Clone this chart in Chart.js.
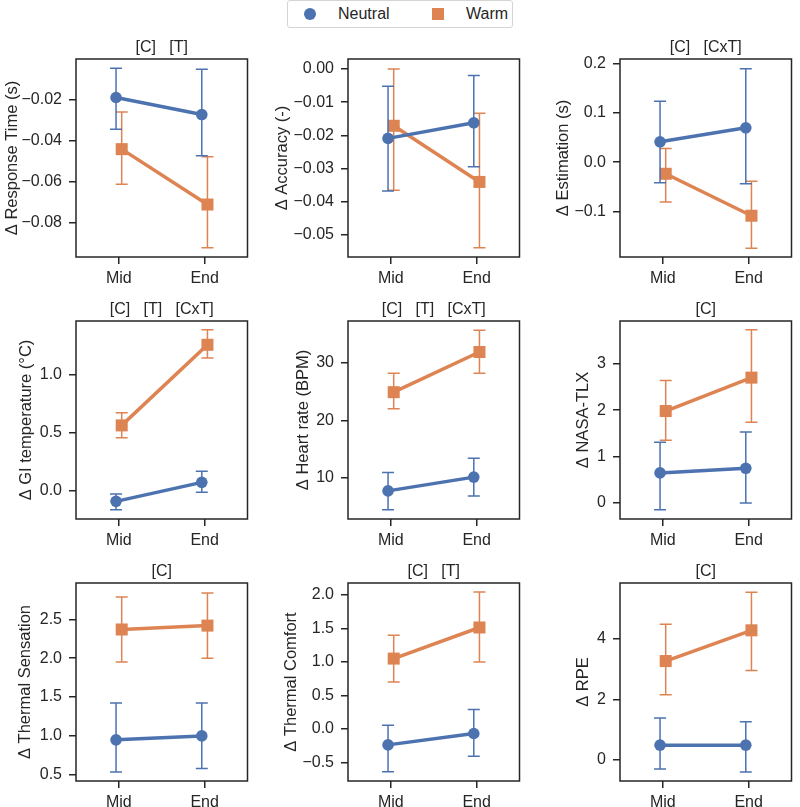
<!DOCTYPE html>
<html>
<head>
<meta charset="utf-8">
<script src="https://cdn.jsdelivr.net/npm/chart.js@4/dist/chart.umd.min.js"></script>
<style>
html,body{margin:0;padding:0;width:800px;height:807px;overflow:hidden;background:#fff;font-family:"Liberation Sans",Arial,sans-serif;}
.panel{position:absolute;}
.panel canvas{display:block;}
#legend{position:absolute;left:287px;top:0;width:226px;height:28px;border:1px solid #d4d4d4;border-radius:3px;box-sizing:border-box;background:#fff;z-index:5;}
#legend .mk{position:absolute;top:7px;width:12px;height:12px;}
#legend .tx{position:absolute;top:0;height:26px;line-height:26px;font-size:16px;color:#262626;}
</style>
</head>
<body>
<div id="legend"></div>
<script>
// ---------------- data ----------------
const categories = ["Mid", "End"];
const seriesNames = ["Neutral", "Warm"];

// Response time (s)
const rtNeutral = [-0.0190, -0.0273];
const rtNeutralCI = [[-0.0344, -0.0048], [-0.0473, -0.0053]];
const rtWarm = [-0.0441, -0.0710];
const rtWarmCI = [[-0.0612, -0.0260], [-0.0920, -0.0478]];
const rtTicks = [-0.08, -0.06, -0.04, -0.02];
const rtTickLabels = ["\u22120.08", "\u22120.06", "\u22120.04", "\u22120.02"];

// Accuracy (-)
const accNeutral = [-0.0209, -0.0162];
const accNeutralCI = [[-0.0367, -0.0052], [-0.0294, -0.0020]];
const accWarm = [-0.0171, -0.0340];
const accWarmCI = [[-0.0365, 0.0000], [-0.0538, -0.0133]];
const accTicks = [-0.05, -0.04, -0.03, -0.02, -0.01, 0.00];
const accTickLabels = ["\u22120.05", "\u22120.04", "\u22120.03", "\u22120.02", "\u22120.01", "0.00"];

// Estimation (s)
const estNeutral = [0.0415, 0.0700];
const estNeutralCI = [[-0.042, 0.124], [-0.044, 0.190]];
const estWarm = [-0.0236, -0.1090];
const estWarmCI = [[-0.081, 0.028], [-0.175, -0.0386]];
const estTicks = [-0.1, 0.0, 0.1, 0.2];
const estTickLabels = ["\u22120.1", "0.0", "0.1", "0.2"];

// GI temperature (°C)
const giNeutral = [-0.095, 0.069];
const giNeutralCI = [[-0.167, -0.031], [-0.017, 0.164]];
const giWarm = [0.560, 1.255];
const giWarmCI = [[0.454, 0.670], [1.140, 1.385]];
const giTicks = [0.0, 0.5, 1.0];
const giTickLabels = ["0.0", "0.5", "1.0"];

// Heart rate (BPM)
const hrNeutral = [7.7, 10.1];
const hrNeutralCI = [[4.4, 10.9], [6.8, 13.4]];
const hrWarm = [24.9, 31.9];
const hrWarmCI = [[22.0, 28.2], [28.2, 35.7]];
const hrTicks = [10, 20, 30];
const hrTickLabels = ["10", "20", "30"];

// NASA-TLX
const tlxNeutral = [0.648, 0.747];
const tlxNeutralCI = [[-0.145, 1.31], [0.00, 1.53]];
const tlxWarm = [1.98, 2.70];
const tlxWarmCI = [[1.35, 2.64], [1.74, 3.73]];
const tlxTicks = [0, 1, 2, 3];
const tlxTickLabels = ["0", "1", "2", "3"];

// Thermal sensation
const tsNeutral = [0.945, 0.996];
const tsNeutralCI = [[0.53, 1.42], [0.575, 1.42]];
const tsWarm = [2.37, 2.42];
const tsWarmCI = [[1.95, 2.79], [2.00, 2.84]];
const tsTicks = [0.5, 1.0, 1.5, 2.0, 2.5];
const tsTickLabels = ["0.5", "1.0", "1.5", "2.0", "2.5"];

// Thermal comfort
const tcNeutral = [-0.24, -0.07];
const tcNeutralCI = [[-0.64, 0.055], [-0.41, 0.29]];
const tcWarm = [1.05, 1.515];
const tcWarmCI = [[0.70, 1.40], [1.00, 2.045]];
const tcTicks = [-0.5, 0.0, 0.5, 1.0, 1.5, 2.0];
const tcTickLabels = ["\u22120.5", "0.0", "0.5", "1.0", "1.5", "2.0"];

// RPE
const rpeNeutral = [0.48, 0.48];
const rpeNeutralCI = [[-0.31, 1.38], [-0.41, 1.26]];
const rpeWarm = [3.27, 4.29];
const rpeWarmCI = [[2.15, 4.49], [2.96, 5.55]];
const rpeTicks = [0, 2, 4];
const rpeTickLabels = ["0", "2", "4"];

// ---------------- styles / layout ----------------
const COLORS = ["#4C72B0", "#DD8452"];
const POINT_STYLES = ["circle", "rect"];
const POINT_RADII = [5.8, 8.5];
const DODGE = [-0.033, 0.033];
const INK = "#262626";
const FONT = '"Liberation Sans", Arial, sans-serif';
Chart.defaults.font.family = FONT;
Chart.defaults.color = INK;

const COL_LEFT = [76, 348, 620];
const ROW_TOP = [59, 321, 583];
const AXIS_W = 76, PLOT_W = 178, PLOT_H = 198, TOP_SPACE = 40, BOTTOM_SPACE = 40;

const panels = [
  {r:0,c:0,title:"[C]   [T]",ylabel:"\u0394 Response Time (s)",means:[rtNeutral,rtWarm],cis:[rtNeutralCI,rtWarmCI],ticks:rtTicks,labels:rtTickLabels,min:-0.0965,max:-0.0003,tpad:2.4},
  {r:0,c:1,title:" ",ylabel:"\u0394 Accuracy (-)",means:[accNeutral,accWarm],cis:[accNeutralCI,accWarmCI],ticks:accTicks,labels:accTickLabels,min:-0.0566,max:0.003,tpad:0.4},
  {r:0,c:2,title:"[C]   [CxT]",ylabel:"\u0394 Estimation (s)",means:[estNeutral,estWarm],cis:[estNeutralCI,estWarmCI],ticks:estTicks,labels:estTickLabels,min:-0.193,max:0.21,tpad:9.4},
  {r:1,c:0,title:"[C]   [T]   [CxT]",ylabel:"\u0394 GI temperature (\u00B0C)",means:[giNeutral,giWarm],cis:[giNeutralCI,giWarmCI],ticks:giTicks,labels:giTickLabels,min:-0.247,max:1.46,tpad:16.4},
  {r:1,c:1,title:"[C]   [T]   [CxT]",ylabel:"\u0394 Heart rate (BPM)",means:[hrNeutral,hrWarm],cis:[hrNeutralCI,hrWarmCI],ticks:hrTicks,labels:hrTickLabels,min:2.8,max:37.3,tpad:21.4},
  {r:1,c:2,title:"[C]",ylabel:"\u0394 NASA-TLX",means:[tlxNeutral,tlxWarm],cis:[tlxNeutralCI,tlxWarmCI],ticks:tlxTicks,labels:tlxTickLabels,min:-0.345,max:3.92,tpad:29.4},
  {r:2,c:0,title:"[C]",ylabel:"\u0394 Thermal Sensation",means:[tsNeutral,tsWarm],cis:[tsNeutralCI,tsWarmCI],ticks:tsTicks,labels:tsTickLabels,min:0.414,max:2.97,tpad:15.4},
  {r:2,c:1,title:"[C]   [T]",ylabel:"\u0394 Thermal Comfort",means:[tcNeutral,tcWarm],cis:[tcNeutralCI,tcWarmCI],ticks:tcTicks,labels:tcTickLabels,min:-0.78,max:2.18,tpad:9.9},
  {r:2,c:2,title:"[C]",ylabel:"\u0394 RPE",means:[rpeNeutral,rpeWarm],cis:[rpeNeutralCI,rpeWarmCI],ticks:rpeTicks,labels:rpeTickLabels,min:-0.71,max:5.86,tpad:29.4}
];

// ---------------- plugins ----------------
const errorBars = {
  id: "errorBars",
  beforeDatasetDraw(chart, args) {
    const ds = chart.data.datasets[args.index];
    const ys = chart.scales.y;
    const ctx = chart.ctx;
    ctx.save();
    ctx.strokeStyle = ds.borderColor;
    ctx.lineWidth = 1.5;
    args.meta.data.forEach((pt, i) => {
      const ci = ds.errorCI[i];
      const x = pt.x;
      const yLo = ys.getPixelForValue(ci[0]);
      const yHi = ys.getPixelForValue(ci[1]);
      ctx.beginPath();
      ctx.moveTo(x, yLo); ctx.lineTo(x, yHi);
      ctx.moveTo(x - 6, yLo); ctx.lineTo(x + 6, yLo);
      ctx.moveTo(x - 6, yHi); ctx.lineTo(x + 6, yHi);
      ctx.stroke();
    });
    ctx.restore();
  }
};
const frame = {
  id: "frame",
  beforeDatasetsDraw(chart) {
    const a = chart.chartArea;
    const ctx = chart.ctx;
    ctx.save();
    ctx.strokeStyle = INK;
    ctx.lineWidth = 1.5;
    ctx.strokeRect(a.left, a.top, a.right - a.left, a.bottom - a.top);
    ctx.restore();
  }
};

// ---------------- build ----------------
panels.forEach(p => {
  const div = document.createElement("div");
  div.className = "panel";
  div.style.left = (COL_LEFT[p.c] - AXIS_W) + "px";
  div.style.top = (ROW_TOP[p.r] - TOP_SPACE) + "px";
  const cv = document.createElement("canvas");
  cv.width = AXIS_W + PLOT_W + 2;
  cv.height = TOP_SPACE + PLOT_H + BOTTOM_SPACE;
  div.style.width = cv.width + "px";
  div.style.height = cv.height + "px";
  div.appendChild(cv);
  document.body.appendChild(div);

  new Chart(cv, {
    type: "line",
    data: {
      datasets: seriesNames.map((name, si) => ({
        label: name,
        data: categories.map((c, ci) => ({ x: ci + DODGE[si], y: p.means[si][ci] })),
        errorCI: p.cis[si],
        borderColor: COLORS[si],
        backgroundColor: COLORS[si],
        borderWidth: 3.5,
        pointStyle: POINT_STYLES[si],
        pointRadius: POINT_RADII[si],
        pointBorderWidth: 0,
        pointBackgroundColor: COLORS[si],
        tension: 0,
        clip: false
      }))
    },
    options: {
      responsive: false,
      animation: false,
      events: [],
      layout: { padding: { left: 0, right: 2, top: 0, bottom: 0 } },
      plugins: {
        legend: { display: false },
        tooltip: { enabled: false },
        title: {
          display: true,
          fullSize: false,
          text: p.title,
          color: INK,
          font: { size: 16, weight: "normal", family: FONT, lineHeight: 1.2 },
          padding: { top: TOP_SPACE - 19.2 - 2, bottom: 2 }
        }
      },
      scales: {
        x: {
          type: "linear",
          min: -0.5,
          max: 1.5,
          afterBuildTicks: s => { s.ticks = categories.map((c, i) => ({ value: i })); },
          afterFit: s => { s.height = BOTTOM_SPACE; },
          ticks: {
            autoSkip: false, maxRotation: 0, padding: 5, color: INK,
            font: { size: 16 },
            callback: (v, i) => categories[i]
          },
          grid: { drawOnChartArea: false, drawTicks: true, tickLength: 7, lineWidth: 1.5, color: INK },
          border: { display: false }
        },
        y: {
          type: "linear",
          min: p.min,
          max: p.max,
          afterBuildTicks: s => { s.ticks = p.ticks.map(v => ({ value: v })); },
          afterFit: s => { s.width = AXIS_W; },
          ticks: {
            autoSkip: false, padding: 7, color: INK,
            font: { size: 16 },
            callback: (v, i) => p.labels[i]
          },
          grid: { drawOnChartArea: false, drawTicks: true, tickLength: 7, lineWidth: 1.5, color: INK },
          border: { display: false },
          title: {
            display: true,
            text: p.ylabel,
            color: INK,
            font: { size: 16.5, family: FONT, lineHeight: 1.2 },
            padding: { top: p.tpad, bottom: 0 }
          }
        }
      }
    },
    plugins: [errorBars, frame]
  });
});

// ---------------- legend ----------------
const legend = document.getElementById("legend");
const LEG_MARK_X = [16, 144];
const LEG_TEXT_X = [50, 178];
seriesNames.forEach((name, si) => {
  const mk = document.createElement("div");
  mk.className = "mk";
  mk.style.left = LEG_MARK_X[si] + "px";
  mk.style.background = COLORS[si];
  if (POINT_STYLES[si] === "circle") mk.style.borderRadius = "50%";
  legend.appendChild(mk);
  const tx = document.createElement("div");
  tx.className = "tx";
  tx.style.left = LEG_TEXT_X[si] + "px";
  tx.textContent = name;
  legend.appendChild(tx);
});
</script>
</body>
</html>
